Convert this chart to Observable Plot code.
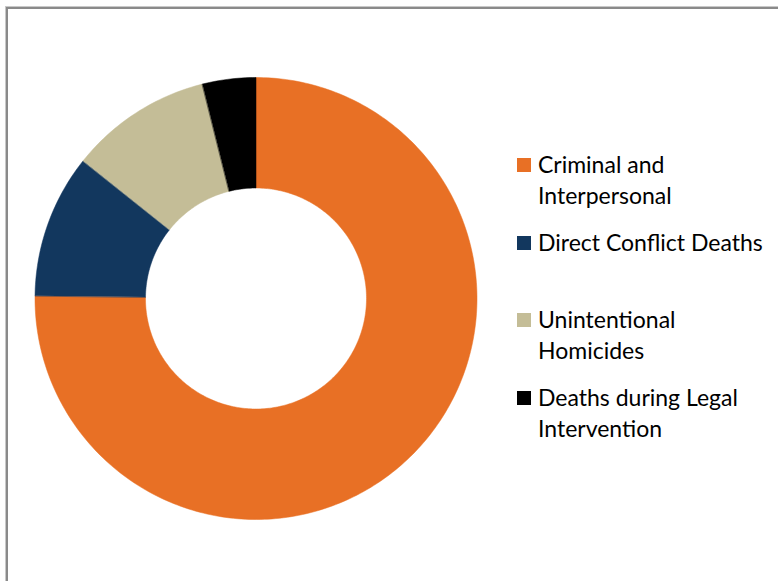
<!DOCTYPE html>
<html>
<head>
<meta charset="utf-8">
<script src="https://cdn.jsdelivr.net/npm/d3@7"></script>
<script src="https://cdn.jsdelivr.net/npm/@observablehq/plot@0.6"></script>
<style>
  html, body { margin: 0; padding: 0; background: #fff; }
  #wrap { position: relative; width: 778px; height: 581px; overflow: hidden; }
  #frame { position: absolute; left: 6px; top: 7px; width: 900px; height: 900px;
           border-left: 2px solid #8a8a8a; border-top: 2px solid #8a8a8a;
           box-shadow: -1px -1px 0 #c8c8c8; }
  #chart { position: absolute; left: 0; top: 0; }
  #legend { position: absolute; left: 517px; top: 149px; font-family: Lato, sans-serif;
            font-size: 23px; color: #000; }
  .item { height: 77.7px; display: flex; align-items: flex-start; }
  .sw { width: 14px; height: 14px; margin-top: 9px; margin-right: 7px; flex: none; }
  .lab { line-height: 31px; white-space: pre; }
</style>
</head>
<body>
<div id="wrap">
  <div id="frame"></div>
  <div id="chart"></div>
  <div id="legend"></div>
</div>
<script>
const categories = ["Criminal and Interpersonal", "Direct Conflict Deaths", "Unintentional Homicides", "Deaths during Legal Intervention"];
const legendLabels = ["Criminal and\nInterpersonal", "Direct Conflict Deaths", "Unintentional\nHomicides", "Deaths during Legal\nIntervention"];
const values = [75.2, 10.5, 10.4, 3.9];
const colors = ["#E87025", "#12375E", "#C4BD97", "#000000"];

const innerRatio = 0.5;
const total = d3.sum(values);
const pts = [];
let acc = 0;
categories.forEach((c, i) => {
  const a0 = acc / total * 2 * Math.PI;
  acc += values[i];
  const a1 = acc / total * 2 * Math.PI;
  const n = Math.max(2, Math.ceil((a1 - a0) / (2 * Math.PI) * 360));
  for (let k = 0; k <= n; k++) {
    const a = a0 + (a1 - a0) * k / n;
    pts.push({category: c, x: Math.sin(a), y: Math.cos(a)});
  }
  for (let k = n; k >= 0; k--) {
    const a = a0 + (a1 - a0) * k / n;
    pts.push({category: c, x: innerRatio * Math.sin(a), y: innerRatio * Math.cos(a)});
  }
});

const cx = 255.5, cy = 298, R = 221;
const plot = Plot.plot({
  width: 778,
  height: 581,
  margin: 0,
  style: {background: "transparent", overflow: "visible"},
  x: {domain: [-1, 1], range: [cx - R, cx + R], axis: null},
  y: {domain: [-1, 1], range: [cy + R, cy - R], axis: null},
  color: {domain: categories, range: colors},
  marks: [
    Plot.line(pts, {x: "x", y: "y", z: "category", fill: "category", stroke: "category", strokeWidth: 0.5, curve: "linear-closed"})
  ]
});
document.getElementById("chart").appendChild(plot);

const legend = d3.select("#legend");
categories.forEach((c, i) => {
  const it = legend.append("div").attr("class", "item");
  it.append("div").attr("class", "sw").style("background", colors[i]);
  it.append("div").attr("class", "lab").text(legendLabels[i]);
});
</script>
</body>
</html>
